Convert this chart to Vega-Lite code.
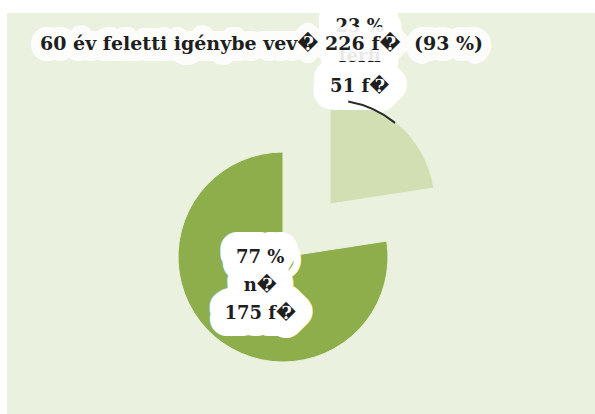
{
  "$schema": "https://vega.github.io/schema/vega-lite/v6.json",
  "width": 588,
  "height": 401,
  "autosize": {"type": "none"},
  "padding": {"left": 7, "top": 13, "right": 0, "bottom": 0},
  "background": "#ffffff",
  "view": {"fill": "#EAF1DF", "stroke": null},
  "config": {"font": "DejaVu Serif"},
  "title": {
    "text": "60 év feletti igénybe vev\uFFFD 226 f\uFFFD \u00A0(93 %)",
    "anchor": "start",
    "frame": "group",
    "orient": "top",
    "offset": 0,
    "baseline": "alphabetic",
    "dx": 33,
    "dy": 56,
    "font": "DejaVu Serif",
    "fontSize": 19,
    "fontWeight": "bold",
    "color": "#1e1e1e"
  },
  "data": {
    "values": [
      {"nem": "férfi", "fo": 51, "szazalek": 23, "label": ["23 %", "férfi", "51 f\uFFFD"]},
      {"nem": "n\uFFFD", "fo": 175, "szazalek": 77, "label": ["77 %", "n\uFFFD", "175 f\uFFFD"]}
    ]
  },
  "layer": [
    {
      "transform": [
        {"stack": "fo", "groupby": [], "as": ["t0", "t1"], "sort": [{"field": "nem"}]},
        {"filter": "datum.nem !== 'férfi'"}
      ],
      "mark": {"type": "arc", "radius": 105, "xOffset": -18, "yOffset": 43.5, "stroke": "#EAF1DF", "strokeWidth": 1},
      "encoding": {
        "theta": {"field": "t0", "type": "quantitative", "scale": {"domain": [0, 226], "range": [0, 6.283185307]}},
        "theta2": {"field": "t1"},
        "color": {"field": "nem", "type": "nominal", "scale": {"domain": ["férfi", "n\uFFFD"], "range": ["#D2DFB2", "#8DAE4A"]}, "legend": null}
      }
    },
    {
      "transform": [
        {"stack": "fo", "groupby": [], "as": ["t0", "t1"], "sort": [{"field": "nem"}]},
        {"filter": "datum.nem === 'férfi'"}
      ],
      "mark": {"type": "arc", "radius": 105, "xOffset": 29, "yOffset": -9.5, "stroke": "#EAF1DF", "strokeWidth": 1},
      "encoding": {
        "theta": {"field": "t0", "type": "quantitative", "scale": {"domain": [0, 226], "range": [0, 6.283185307]}},
        "theta2": {"field": "t1"},
        "color": {"field": "nem", "type": "nominal", "scale": {"domain": ["férfi", "n\uFFFD"], "range": ["#D2DFB2", "#8DAE4A"]}, "legend": null}
      }
    },
    {
      "mark": {"type": "text", "radius": 35, "xOffset": -18, "yOffset": 43.5, "dy": -26, "fontSize": 18, "fontWeight": "bold", "lineHeight": 28, "align": "center", "baseline": "middle", "fill": "#ffffff", "stroke": "#ffffff", "strokeWidth": 34, "strokeJoin": "round"},
      "encoding": {
        "theta": {"field": "fo", "type": "quantitative", "stack": true, "scale": {"domain": [0, 226], "range": [0, 6.283185307]}},
        "text": {"condition": {"test": "datum.nem !== 'férfi'", "field": "label"}, "value": ""}
      }
    },
    {
      "mark": {"type": "text", "radius": 35, "xOffset": -18, "yOffset": 43.5, "dy": -26, "fontSize": 18, "fontWeight": "bold", "lineHeight": 28, "align": "center", "baseline": "middle", "fill": "#1e1e1e"},
      "encoding": {
        "theta": {"field": "fo", "type": "quantitative", "stack": true, "scale": {"domain": [0, 226], "range": [0, 6.283185307]}},
        "text": {"condition": {"test": "datum.nem !== 'férfi'", "field": "label"}, "value": ""}
      }
    },
    {
      "mark": {"type": "text", "radius": 150, "xOffset": 29, "yOffset": -9.5, "dx": -68, "dy": -63, "fontSize": 18, "fontWeight": "bold", "lineHeight": 30, "align": "center", "baseline": "middle", "fill": "#ffffff", "stroke": "#ffffff", "strokeWidth": 36, "strokeJoin": "round"},
      "encoding": {
        "theta": {"field": "fo", "type": "quantitative", "stack": true, "scale": {"domain": [0, 226], "range": [0, 6.283185307]}},
        "text": {"condition": {"test": "datum.nem === 'férfi'", "field": "label"}, "value": ""}
      }
    },
    {
      "transform": [
        {"stack": "fo", "groupby": [], "as": ["t0", "t1"], "sort": [{"field": "nem"}]},
        {"filter": "datum.nem === 'férfi'"}
      ],
      "mark": {"type": "arc", "radius": 105, "innerRadius": 103, "thetaOffset": 0.176, "theta2Offset": -0.742, "xOffset": 29, "yOffset": -9.5, "fill": "#2a2a2a"},
      "encoding": {
        "theta": {"field": "t0", "type": "quantitative", "scale": {"domain": [0, 226], "range": [0, 6.283185307]}},
        "theta2": {"field": "t1"}
      }
    },
    {
      "mark": {"type": "text", "radius": 150, "xOffset": 29, "yOffset": -9.5, "dx": -68, "dy": -63, "fontSize": 18, "fontWeight": "bold", "lineHeight": 30, "align": "center", "baseline": "middle", "fill": "#1e1e1e"},
      "encoding": {
        "theta": {"field": "fo", "type": "quantitative", "stack": true, "scale": {"domain": [0, 226], "range": [0, 6.283185307]}},
        "text": {"condition": {"test": "datum.nem === 'férfi'", "field": "label"}, "value": ""}
      }
    },
    {
      "data": {"values": [{"cim": "60 év feletti igénybe vev\uFFFD 226 f\uFFFD \u00A0(93 %)"}]},
      "mark": {"type": "text", "dx": -261, "dy": -162.5, "fontSize": 19, "fontWeight": "bold", "align": "left", "baseline": "alphabetic", "fill": "#ffffff", "stroke": "#ffffff", "strokeWidth": 20, "strokeJoin": "round", "opacity": 0.9},
      "encoding": {"text": {"field": "cim"}}
    }
  ]
}
